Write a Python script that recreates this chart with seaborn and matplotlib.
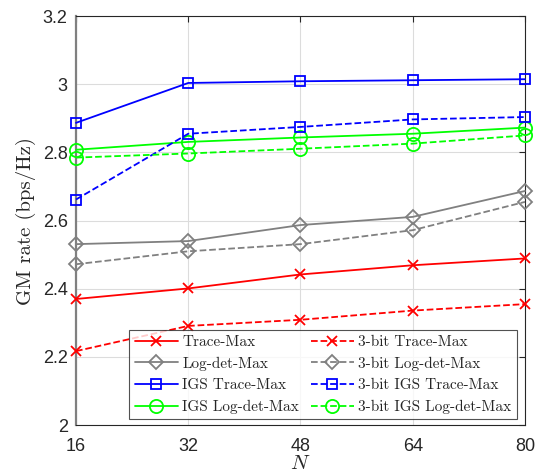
import matplotlib
matplotlib.use("Agg")
import matplotlib.pyplot as plt
import seaborn as sns
import pandas as pd

N = [16, 32, 48, 64, 80]

trace_max = [2.370, 2.401, 2.442, 2.469, 2.489]
logdet_max = [2.531, 2.540, 2.587, 2.611, 2.687]
igs_trace = [2.887, 3.004, 3.009, 3.012, 3.015]
igs_logdet = [2.808, 2.831, 2.844, 2.855, 2.873]
trace_3bit = [2.217, 2.291, 2.309, 2.336, 2.355]
logdet_3bit = [2.472, 2.510, 2.531, 2.572, 2.655]
igs_trace_3bit = [2.662, 2.855, 2.875, 2.897, 2.904]
igs_logdet_3bit = [2.785, 2.797, 2.811, 2.826, 2.850]

names = ["Trace-Max", "Log-det-Max", "IGS Trace-Max", "IGS Log-det-Max",
         "3-bit Trace-Max", "3-bit Log-det-Max", "3-bit IGS Trace-Max", "3-bit IGS Log-det-Max"]
values = [trace_max, logdet_max, igs_trace, igs_logdet,
          trace_3bit, logdet_3bit, igs_trace_3bit, igs_logdet_3bit]

colors = ["#ff0000", "#808080", "#0000ff", "#00ff00"] * 2
markers = ["x", "D", "s", "o"] * 2
msizes = [7.5, 7.5, 7.5, 9.5] * 2
styles = ["-"] * 4 + ["--"] * 4

rows = []
for name, vals in zip(names, values):
    for n, v in zip(N, vals):
        rows.append({"N": n, "rate": v, "series": name})
df = pd.DataFrame(rows)

sns.set_style("white")
plt.rcParams["mathtext.fontset"] = "cm"

fig = plt.figure(figsize=(5.39, 4.76), dpi=100)
ax = fig.add_axes([0.141, 0.107, 0.833, 0.859])

for i, name in enumerate(names):
    sub = df[df["series"] == name]
    sns.lineplot(data=sub, x="N", y="rate", ax=ax, color=colors[i], linestyle=styles[i],
                 marker=markers[i], markersize=msizes[i],
                 markerfacecolor="none", markeredgecolor=colors[i], markeredgewidth=1.3,
                 linewidth=1.3, label=name, clip_on=False, zorder=3)

ax.set_xlim(16, 80)
ax.set_ylim(2, 3.2)
ax.set_xticks(N)
ax.set_yticks([2, 2.2, 2.4, 2.6, 2.8, 3, 3.2])
ax.set_yticklabels(["2", "2.2", "2.4", "2.6", "2.8", "3", "3.2"])
ax.grid(True, color="#dcdcdc", linewidth=0.8)
ax.tick_params(direction="in", top=True, right=True, length=4, labelsize=13,
               colors="#262626")
ax.tick_params(axis="x", pad=9)
ax.tick_params(axis="y", pad=6)
for lab in ax.get_xticklabels() + ax.get_yticklabels():
    lab.set_fontfamily("Liberation Sans")
for s in ax.spines.values():
    s.set_color("#262626")
    s.set_linewidth(0.8)
ax.spines["left"].set_color("#808080")
ax.spines["left"].set_linewidth(1.6)

ax.set_xlabel("$N$", fontsize=15, labelpad=-1)
ax.set_ylabel("GM rate (bps/Hz)", fontsize=15, fontfamily="cmr10", labelpad=5)

leg = ax.legend(ncol=2, loc="lower right", bbox_to_anchor=(0.982, 0.014),
                prop={"family": "cmr10", "size": 11}, frameon=True, fancybox=False,
                edgecolor="#262626", handlelength=2.8, columnspacing=0.8,
                labelspacing=0.5, borderpad=0.35, handletextpad=0.3, borderaxespad=0)
leg.get_frame().set_linewidth(0.8)

fig.savefig("out.png", dpi=100)
